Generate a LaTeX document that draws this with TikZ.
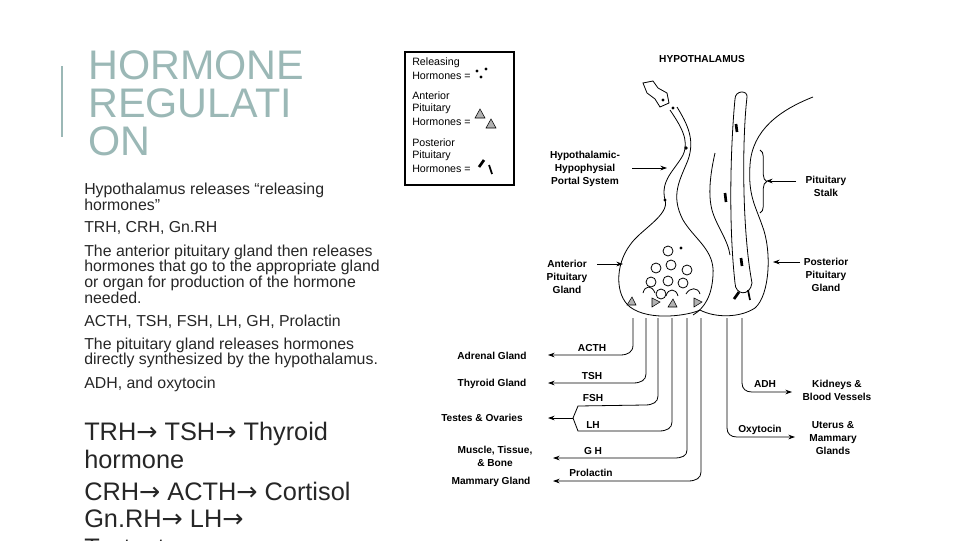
\documentclass[tikz,border=0pt]{standalone}
\usepackage{fontspec}
\setmainfont{Liberation Sans}
\newfontfamily\arrfont{DejaVu Sans}
\usetikzlibrary{arrows.meta,decorations.pathreplacing}
\definecolor{ttl}{HTML}{9BB8B6}
\begin{document}
\begin{tikzpicture}[x=0.75pt,y=-0.75pt,
 body/.style={anchor=west,inner sep=0,font=\fontsize{11.9}{12}\selectfont,text=black!85},
 big/.style={anchor=west,inner sep=0,font=\fontsize{19}{20}\selectfont,text=black!85},
 lbl/.style={inner sep=0,font=\fontsize{7.6}{9.6}\bfseries\selectfont,align=center},
 leg/.style={anchor=west,inner sep=0,font=\fontsize{8}{9}\selectfont},
 ln/.style={line width=0.6pt},
 arr/.style={line width=0.6pt,-{Stealth[length=5pt,width=3.5pt]}},
 tri/.style={fill=gray!60,draw=black,line width=0.4pt},
 rod/.style={line width=2pt,line cap=butt}]
\useasboundingbox (0,0) rectangle (960,540);
\clip (0,0) rectangle (960,540);
% title
\draw[ttl,line width=2.2pt] (62,66) -- (62,137);
\node[anchor=base west,inner sep=0,text=ttl,font=\fontsize{31}{31}\selectfont] (t1) at (88,79) {HORMONE};
\node[anchor=base west,inner sep=0,text=ttl,font=\fontsize{31}{31}\selectfont] (t2) at (88,117) {REGULATI};
\node[anchor=base west,inner sep=0,text=ttl,font=\fontsize{31}{31}\selectfont] (t3) at (88,155) {ON};
% body
\node[body] (b1) at (84,190) {Hypothalamus releases “releasing};
\node[body] (b2) at (84,205) {hormones”};
\node[body] (b3) at (84,228) {TRH, CRH, Gn.RH};
\node[body] (b4) at (84,252) {The anterior pituitary gland then releases};
\node[body] (b5) at (84,267) {hormones that go to the appropriate gland};
\node[body] (b6) at (84,283) {or organ for production of the hormone};
\node[body] (b7) at (84,298) {needed.};
\node[body] (b8) at (84,322) {ACTH, TSH, FSH, LH, GH, Prolactin};
\node[body] (b9) at (84,345) {The pituitary gland releases hormones};
\node[body] (b10) at (84,360) {directly synthesized by the hypothalamus.};
\node[body] (b11) at (84,384) {ADH, and oxytocin};
\node[big] (c1) at (84,434) {TRH{\arrfont→} TSH{\arrfont→} Thyroid};
\node[big] (c2) at (84,459) {hormone};
\node[big] (c3) at (84,491) {CRH{\arrfont→} ACTH{\arrfont→} Cortisol};
\node[big] (c4) at (84,519) {Gn.RH{\arrfont→} LH{\arrfont→}};
\node[big] (c5) at (84,548) {Testosterone};
% legend
\draw[line width=0.8pt] (405,52) rectangle (514,185);
\node[leg] (l1) at (412,63) {Releasing};
\node[leg] (l2) at (412,76) {Hormones =};
\fill (477,71) circle (1.7) (486,69) circle (1.7) (481,77) circle (1.7);
\node[leg] (l3) at (412,96) {Anterior};
\node[leg] (l4) at (412,109) {Pituitary};
\node[leg] (l5) at (412,122) {Hormones =};
\draw[tri] (475,118)--(485,118)--(480,109)--cycle;
\draw[tri] (486,128)--(496,128)--(491,119)--cycle;
\node[leg] (l6) at (412,143) {Posterior};
\node[leg] (l7) at (412,156) {Pituitary};
\node[leg] (l8) at (412,169) {Hormones =};
\draw[rod] (479,167)--(484,160);
\draw[line width=1.3pt] (489,165)--(492,174);
% anatomy
\node[lbl] (hyp) at (702,59) {HYPOTHALAMUS};
\draw[ln,fill=white] (643,83)--(653,81)--(658,88)--(667,93)--(669,103)--(660,107)--(655,99)--(647,93)--cycle;
\fill (663,100) circle (1.6);
% portal vessel left line -> anterior outline
\draw[ln] (670,110) .. controls (680,125) and (690,140) .. (683,155)
 .. controls (675,170) and (660,180) .. (665,200)
 .. controls (670,215) and (640,230) .. (630,245)
 .. controls (615,265) and (615,295) .. (630,307)
 .. controls (650,322) and (690,315) .. (700,310);
% portal vessel right line -> boundary
\draw[ln] (677,107) .. controls (688,125) and (695,140) .. (688,160)
 .. controls (680,180) and (670,195) .. (683,220)
 .. controls (695,240) and (715,250) .. (713,275)
 .. controls (712,295) and (705,308) .. (693,315);
\fill (673,108) circle (1.6) (686,148) circle (1.8) (665,200) circle (1.6) (681,248) circle (1.6);
% posterior outer
\draw[ln] (813,97) .. controls (780,110) and (752,130) .. (750,165)
 .. controls (748,195) and (755,205) .. (762,225)
 .. controls (772,250) and (770,295) .. (755,308)
 .. controls (740,318) and (715,318) .. (700,310);
% posterior inner left line
\draw[ln] (715,153) .. controls (710,175) and (708,195) .. (712,210)
 .. controls (716,225) and (728,240) .. (730,255);
% axon tube
\draw[ln] (735,99) .. controls (731,140) and (728,220) .. (735,283)
 .. controls (735,295) and (750,297) .. (752,283)
 .. controls (742,230) and (742,140) .. (747,97)
 .. controls (748,90) and (735,90) .. (735,99);
\draw[rod] (737,132)--(736,124);
\draw[rod] (726,202)--(725,193);
\draw[rod] (742,266)--(741,258);
\draw[rod] (734,299)--(739,292);
\draw[line width=1.3pt] (748,290)--(750,300);
% follicles
\foreach \p in {(668,251),(656,268),(671,265),(687,270),(651,282),(668,281),(683,283),(661,294)}
  \draw[ln] \p circle (5);
\draw[ln] (643,293) .. controls (645,285) and (652,285) .. (655,293);
\draw[ln] (666,296) .. controls (668,288) and (676,288) .. (678,296);
\draw[ln] (686,294) .. controls (690,287) and (698,287) .. (700,294);
\draw[tri] (627,305)--(636,305)--(632,297)--cycle;
\draw[tri] (652,298)--(652,307)--(660,302)--cycle;
\draw[tri] (668,307)--(677,307)--(673,299)--cycle;
\draw[tri] (694,298)--(694,307)--(702,302)--cycle;
% upper labels
\node[lbl] (hhp) at (585,169) {Hypothalamic-\\Hypophysial\\Portal System};
\coordinate (hhpt) at (667,168);
\draw[arr] (632,168) -- (hhpt);
\node[lbl] (ps) at (826,186) {Pituitary\\Stalk};
\draw[decorate,decoration={brace,amplitude=5pt},ln] (760,150) -- (760,213);
\coordinate (pst) at (766,181);
\draw[arr] (796,181) -- (pst);
\node[lbl] (apg) at (567,277) {Anterior\\Pituitary\\Gland};
\coordinate (apgt) at (623,264);
\draw[arr] (597,264) -- (apgt);
\node[lbl] (ppg) at (826,275) {Posterior\\Pituitary\\Gland};
\coordinate (ppgt) at (773,262);
\draw[arr] (800,262) -- (ppgt);
% outputs
\node[lbl] (adr) at (492,356) {Adrenal Gland};
\node[lbl] (thy) at (492,384) {Thyroid Gland};
\node[lbl] (tes) at (482,418) {Testes \& Ovaries};
\node[lbl] (mus) at (495,456) {Muscle, Tissue,\\\& Bone};
\node[lbl] (mam) at (491,482) {Mammary Gland};
\node[lbl] (kid) at (837,390) {Kidneys \&\\Blood Vessels};
\node[lbl] (ute) at (833,438) {Uterus \&\\Mammary\\Glands};
\draw[arr] (633,318) -- (633,345) .. controls (633,352) and (628,355) .. (620,355) -- (548,355);
\draw[arr] (646,318) -- (646,374) .. controls (646,380) and (641,383) .. (633,383) -- (548,383);
\draw[ln] (658,318) -- (658,396) .. controls (658,402) and (653,405) .. (645,405) -- (578,406) -- (573,418);
\draw[ln] (672,318) -- (672,422) .. controls (672,428) and (667,431) .. (659,431) -- (578,431) -- (573,418);
\coordinate (fork) at (573,418);
\draw[arr] (fork) -- (548,418);
\draw[arr] (687,318) -- (687,450) .. controls (687,456) and (682,458) .. (674,458) -- (553,458);
\draw[arr] (701,318) -- (701,472) .. controls (701,478) and (696,481) .. (688,481) -- (553,481);
\draw[arr] (742,318) -- (742,383) .. controls (742,389) and (746,392) .. (752,392) -- (792,392);
\draw[arr] (727,318) -- (727,428) .. controls (727,434) and (731,437) .. (737,437) -- (795,437);
\node[lbl] at (592,348) {ACTH};
\node[lbl] at (592,376) {TSH};
\node[lbl] at (593,398) {FSH};
\node[lbl] at (593,425) {LH};
\node[lbl] at (593,451) {G H};
\node[lbl] at (591,473) {Prolactin};
\node[lbl] at (765,384) {ADH};
\node[lbl] at (760,430) {Oxytocin};
\end{tikzpicture}
\end{document}
